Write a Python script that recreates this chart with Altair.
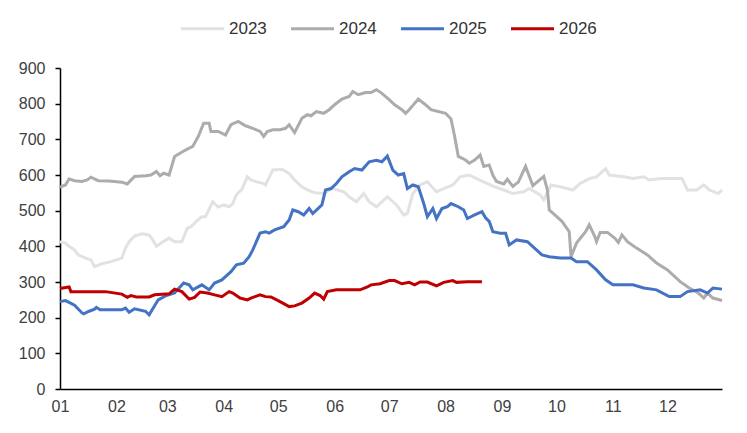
import altair as alt
import pandas as pd

# ---- data (x = day of year, 0 = 1 Jan) ----
days_2023 = [0,3,5,8,10,14,17,19,23,28,34,36,38,41,45,49,51,53,56,60,63,67,70,72,75,78,80,84,87,90,93,95,97,100,103,105,108,112,113,117,122,126,129,133,136,140,145,150,156,159,163,167,170,174,180,185,189,191,194,198,202,207,211,216,220,225,229,235,239,244,249,255,258,264,266,270,275,282,286,291,295,300,302,310,315,321,324,330,335,342,345,350,354,357,362,364]
vals_2023 = [413,409,400,390,376,367,362,343,351,357,367,395,413,429,435,432,418,400,411,423,413,413,451,455,470,483,483,525,510,516,511,520,545,560,595,586,581,576,572,614,616,604,586,567,558,550,548,562,553,539,525,548,525,511,539,516,488,492,548,572,581,553,562,572,595,600,590,576,567,558,548,553,562,544,530,572,567,558,576,590,595,618,600,595,590,595,586,590,590,590,558,558,572,558,548,558]

days_2024 = [0,3,5,8,12,15,17,21,27,34,37,41,47,50,53,55,57,60,63,66,69,73,76,79,82,83,87,91,94,98,102,106,110,112,114,117,121,124,126,129,133,136,138,141,145,148,151,155,159,161,164,168,171,174,177,181,184,188,190,192,197,201,204,208,212,215,217,219,223,225,228,231,233,236,238,240,244,246,249,252,256,260,266,268,269,271,276,280,281,284,289,291,294,295,297,301,305,307,309,312,317,323,328,334,337,341,346,351,354,356,359,364]
vals_2024 = [566,572,589,584,582,586,594,584,583,580,575,596,598,600,610,598,605,600,652,661,670,680,708,745,745,722,722,712,741,750,738,731,722,708,722,727,727,731,741,719,759,769,766,778,773,783,797,813,820,834,825,831,831,839,829,811,797,783,773,783,813,797,783,778,773,757,708,652,642,633,642,656,624,628,600,582,575,588,568,580,624,570,596,558,502,493,470,441,371,409,441,460,428,413,439,439,423,411,432,413,395,376,353,334,320,301,283,269,255,269,255,248]

days_2025 = [0,3,5,8,12,13,16,19,20,22,34,36,38,41,47,49,54,58,63,68,71,73,78,82,85,89,94,97,101,104,106,110,113,115,118,123,126,128,131,134,137,139,144,146,149,152,155,159,162,166,170,174,177,180,183,186,189,191,194,197,200,202,205,207,210,213,215,219,222,224,228,232,234,236,238,242,245,247,251,257,260,265,269,275,281,284,290,295,300,304,308,315,321,328,335,341,345,352,356,359,364]
vals_2025 = [245,248,243,235,214,211,218,224,229,222,222,227,215,225,218,208,250,261,269,297,292,278,292,278,297,306,329,348,353,371,390,437,441,437,446,455,474,502,497,488,506,492,516,558,562,576,595,609,618,614,637,641,637,653,614,600,604,562,572,567,520,483,506,478,506,511,520,511,502,478,488,497,480,470,441,437,437,404,418,413,399,376,371,367,367,357,357,334,306,292,292,292,283,278,259,259,273,278,269,283,280]

days_2026 = [0,5,6,14,25,34,37,39,42,49,52,60,63,67,71,74,77,81,85,89,93,95,99,103,105,110,113,116,121,126,129,133,137,140,143,145,147,152,158,165,169,171,176,181,184,188,192,195,198,202,207,211,216,218,224,232]
vals_2026 = [282,286,273,273,273,266,257,262,258,258,264,267,280,273,252,257,272,269,264,259,273,269,255,250,255,264,259,258,245,231,233,241,255,269,262,252,273,278,278,278,286,292,295,304,304,295,299,292,300,300,289,299,304,299,301,301]

years = ["2023", "2024", "2025", "2026"]
colors = ["#E2E2E2", "#AEABAB", "#4472C4", "#C00000"]
widths = [3, 3, 3, 3.5]

month_labels = ["01","02","03","04","05","06","07","08","09","10","11","12"]
month_start_days = [0,31,59,90,120,151,181,212,243,273,304,334]
y_ticks = [0,100,200,300,400,500,600,700,800,900]

series = {
    "2023": (days_2023, vals_2023),
    "2024": (days_2024, vals_2024),
    "2025": (days_2025, vals_2025),
    "2026": (days_2026, vals_2026),
}
rows = []
for yr, (ds, vs) in series.items():
    for d, v in zip(ds, vs):
        rows.append({"day": d, "value": v, "year": yr})
df = pd.DataFrame(rows)

label_expr = "[" + ",".join("'%s'" % m for m in month_labels) + "][indexof([" + \
    ",".join(str(d) for d in month_start_days) + "], datum.value)]"

FONT = "Liberation Sans"

chart = alt.Chart(df).mark_line().encode(
    x=alt.X("day:Q",
            scale=alt.Scale(domain=[0, 364], nice=False, zero=False),
            axis=alt.Axis(values=month_start_days, labelExpr=label_expr, title=None,
                          ticks=False, domainColor="#000000", domainWidth=1.5,
                          labelFontSize=16, labelColor="#404040", labelPadding=9,
                          labelFont=FONT, grid=False, labelFlush=False)),
    y=alt.Y("value:Q",
            scale=alt.Scale(domain=[0, 900], nice=False),
            axis=alt.Axis(values=y_ticks, title=None, grid=False,
                          domainColor="#000000", domainWidth=1.5,
                          tickColor="#000000", tickWidth=1.5, tickSize=5,
                          labelFontSize=16, labelColor="#404040", labelPadding=10,
                          labelFont=FONT)),
    color=alt.Color("year:N",
                    scale=alt.Scale(domain=years, range=colors),
                    legend=alt.Legend(title=None, orient="none", direction="horizontal",
                                      legendX=119, legendY=-63, symbolType="stroke",
                                      symbolSize=1850, symbolStrokeWidth=5,
                                      labelFontSize=17, labelColor="#333333",
                                      labelFont=FONT, labelOffset=3, columnPadding=17,
                                      padding=0)),
    strokeWidth=alt.StrokeWidth("year:N", scale=alt.Scale(domain=years, range=widths),
                                legend=None),
).properties(
    width=662,
    height=321,
    autosize=alt.AutoSizeParams(type="none"),
    padding={"left": 52, "top": 60, "right": 17, "bottom": 36},
).configure_view(stroke=None)

chart.save("out.html", embed_options={"renderer": "svg", "actions": False})
